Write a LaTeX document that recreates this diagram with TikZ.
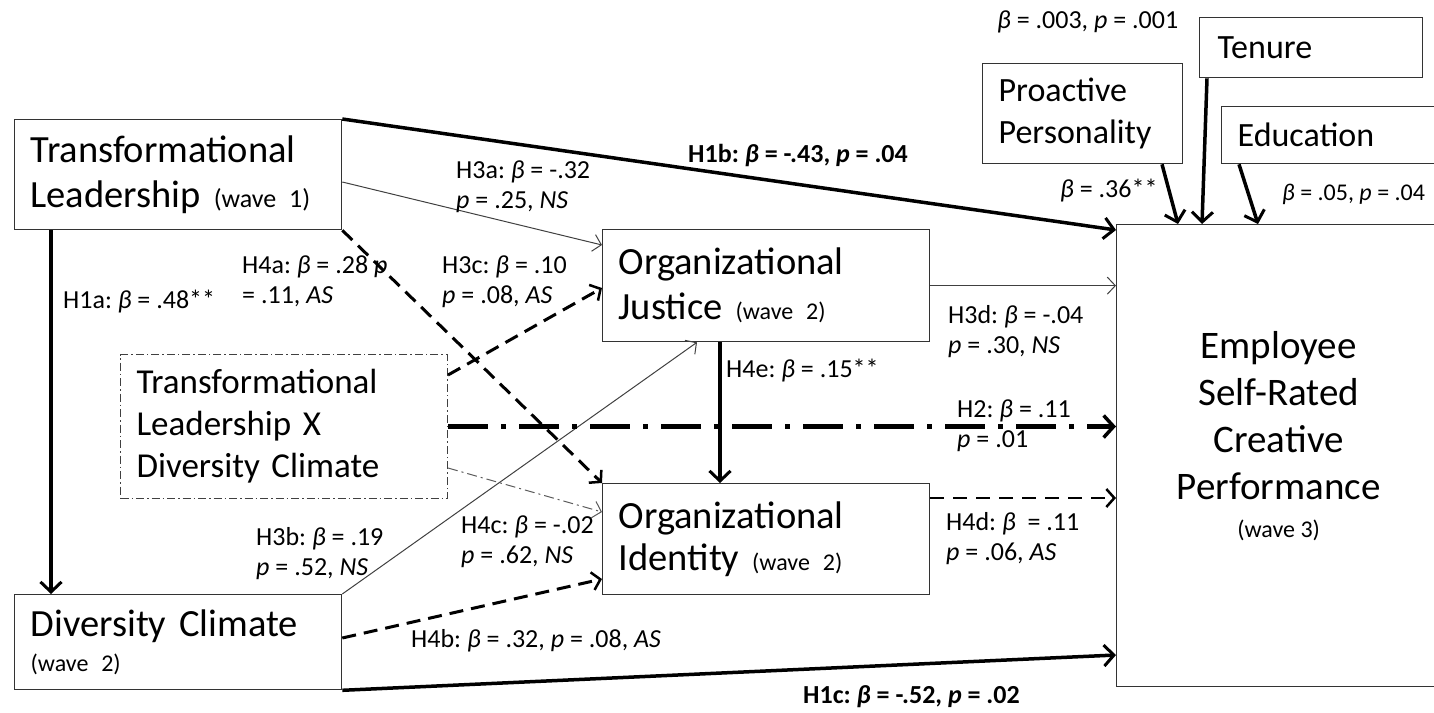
\documentclass[tikz,border=0pt]{standalone}
\usepackage{fontspec}
\setmainfont{Carlito}
\usetikzlibrary{arrows.meta,calc}

\newcommand{\bigtxt}{\fontsize{38.5}{45}\selectfont}
\newcommand{\covtxt}{\fontsize{34}{42}\selectfont}
\newcommand{\wavetxt}{\fontsize{24}{30}\selectfont}
\newcommand{\lbltxt}{\fontsize{26}{30}\selectfont}
\newcommand{\betai}{\textit{β}}
\newcommand{\pv}{\textit{p}}
\frenchspacing

\begin{document}
\begin{tikzpicture}[x=1pt,y=-1pt,
    box/.style={draw=black!80, line width=1.3pt, anchor=north west, inner xsep=16pt, inner ysep=0pt, align=left, font=\bigtxt},
    lbl/.style={anchor=base west, inner sep=0pt, font=\lbltxt},
    solidarrow/.style={line width=3.5pt, -{Straight Barb[length=10pt,width=21pt,line width=3pt]}},
    thinarrow/.style={draw=black!75, line width=1pt, -{Straight Barb[length=8pt,width=17pt,line width=1pt]}},
    dasharrow/.style={line width=3pt, dash pattern=on 14pt off 8pt, -{Straight Barb[length=8pt,width=18pt,line width=2.5pt]}},
    dotarrow/.style={draw=black!65, line width=1pt, dash pattern=on 10pt off 4pt on 2pt off 4pt, -{Straight Barb[length=8pt,width=17pt,line width=1pt]}},
    bigdotarrow/.style={line width=5pt, dash pattern=on 40pt off 13pt on 5pt off 13pt, -{Straight Barb[length=10pt,width=22pt,line width=3.5pt]}}]
    \useasboundingbox (0,0) rectangle (1434,712);

    % boxes
    \node[box, text width=295, minimum height=110] (tl) at (14,119) {Transformational\\Leadership {\fontsize{26}{30}\selectfont (wave 1)}};
    \node[box, text width=295, minimum height=95] (dc) at (14,594) {Diversity Climate\\[-10pt]{\wavetxt (wave 2)}};
    \node[box, text width=295, minimum height=144, draw=black!75, line width=1pt, dash pattern=on 8pt off 3pt on 1.5pt off 3pt, font=\fontsize{35}{42}\selectfont] (inter) at (120,354) {Transformational\\Leadership X\\Diversity Climate};
    \node[box, text width=295, minimum height=112] (oj) at (602,229) {Organizational\\Justice {\wavetxt (wave 2)}};
    \node[box, text width=295, minimum height=111, font=\fontsize{38.5}{42}\selectfont] (oi) at (602,483) {Organizational\\Identity {\wavetxt (wave 2)}};
    \node[box, align=center, inner xsep=0pt, minimum width=324, minimum height=462, font=\fontsize{39}{47}\selectfont] (esr) at (1116,224)
        {\raisebox{17pt}[\height][\depth]{\begin{tabular}{@{}c@{}}Employee\\Self-Rated\\Creative\\Performance\\[-9pt]{\wavetxt (wave 3)}\end{tabular}}};
    \node[box, font=\covtxt, text width=168, minimum height=100] (pp) at (982,63) {Proactive\\Personality};
    \node[box, font=\covtxt, inner xsep=18pt, text width=187, minimum height=60] (ten) at (1199,17) {Tenure};
    \node[box, font=\covtxt, text width=192, minimum height=57] (edu) at (1221,106) {Education};

    % covariates
    \foreach \s/\sx/\tx in {pp/180/62, ten/8/86, edu/18/142}
        \draw[solidarrow] ($(\s.south west)+(\sx,0)$) -- ($(esr.north west)+(\tx,0)$);
    \node[lbl] (cten) at (997,28) {\betai{} = .003, \pv{} = .001};
    \node[lbl] (cpp) at (1060,197) {\betai{} = .36**};
    \node[lbl, font=\fontsize{24}{30}\selectfont] (cedu) at (1282,200) {\betai{} = .05, \pv{} = .04};

    % direct paths
    \draw[solidarrow] (tl.north east) -- ($(esr.north west)+(0,6)$);
    \draw[solidarrow] ($(tl.south west)+(37,0)$) -- ($(dc.north west)+(37,0)$);
    \draw[solidarrow] (dc.south east) -- ($(esr.north west)+(0,431)$);
    \draw[solidarrow] ($(oj.south west)+(118,0)$) -- ($(oi.north west)+(118,0)$);

    % mediators
    \draw[thinarrow] ($(tl.north east)+(0,63)$) -- ($(oj.north west)+(0,16)$);
    \draw[thinarrow] (dc.north east) -- ($(oj.south west)+(95,0)$);
    \draw[thinarrow] (oj.east) -- (oj.east -| esr.west);
    \draw[dasharrow] (tl.south east) -- (oi.north west);
    \draw[dasharrow] ($(inter.north east)+(0,21)$) -- ($(oj.north west)+(0,59)$);
    \draw[dasharrow] ($(dc.north east)+(0,44)$) -- ($(oi.north west)+(0,96)$);
    \draw[dotarrow] ($(inter.north east)+(0,114)$) -- ($(oi.north west)+(0,29)$);
    \draw[bigdotarrow] (inter.east) -- (inter.east -| esr.west);
    \coordinate (h4d) at ($(oi.north east)+(0,15)$);
    \draw[dasharrow, line width=2.5pt, dash pattern=on 14pt off 9pt] (h4d) -- (h4d -| esr.west);

    % labels
    \node[lbl] (lh1b) at (688,162) {\textbf{H1b: \betai{} = -.43, \pv{} = .04}};
    \node[lbl] (lh3a) at (456,178) {\begin{tabular}[t]{@{}l@{}}H3a: \betai{} = -.32\\\pv{} = .25, \textit{NS}\end{tabular}};
    \node[lbl] (lh4a) at (242,273) {\begin{tabular}[t]{@{}l@{}}H4a: \betai{} = .28 \pv\\= .11, \textit{AS}\end{tabular}};
    \node[lbl] (lh3c) at (442,273) {\begin{tabular}[t]{@{}l@{}}H3c: \betai{} = .10\\\pv{} = .08, \textit{AS}\end{tabular}};
    \node[lbl] (lh1a) at (63,308) {H1a: \betai{} = .48**};
    \node[lbl] (lh4e) at (726,377) {H4e: \betai{} = .15**};
    \node[lbl] (lh3d) at (948,323) {\begin{tabular}[t]{@{}l@{}}H3d: \betai{} = -.04\\\pv{} = .30, \textit{NS}\end{tabular}};
    \node[lbl] (lh2) at (957,417) {\begin{tabular}[t]{@{}l@{}}H2: \betai{} = .11\\\pv{} = .01\end{tabular}};
    \node[lbl] (lh4c) at (461,533) {\begin{tabular}[t]{@{}l@{}}H4c: \betai{} = -.02\\\pv{} = .62, \textit{NS}\end{tabular}};
    \node[lbl] (lh3b) at (256,545) {\begin{tabular}[t]{@{}l@{}}H3b: \betai{} = .19\\\pv{} = .52, \textit{NS}\end{tabular}};
    \node[lbl] (lh4d) at (946,530) {\begin{tabular}[t]{@{}l@{}}H4d: \betai{}\ \ = .11\\\pv{} = .06, \textit{AS}\end{tabular}};
    \node[lbl] (lh4b) at (411,647) {H4b: \betai{} = .32, \pv{} = .08, \textit{AS}};
    \node[lbl] (lh1c) at (803,703) {\textbf{H1c: \betai{} = -.52, \pv{} = .02}};
\end{tikzpicture}
\end{document}
